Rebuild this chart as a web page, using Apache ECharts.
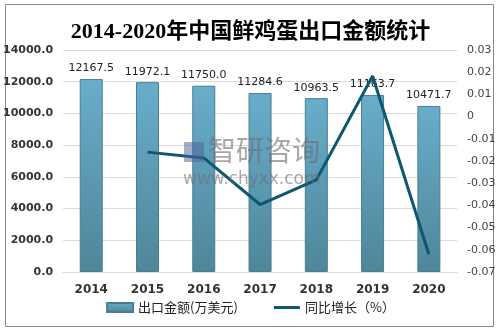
<!DOCTYPE html>
<html><head><meta charset="utf-8">
<script src="https://cdn.jsdelivr.net/npm/echarts@6/dist/echarts.min.js"></script>
<style>html,body{margin:0;padding:0;background:#fff}#c{width:501px;height:331px}</style>
</head><body><div id="c"></div>
<script>
var years = ['2014','2015','2016','2017','2018','2019','2020'];
var exportValue = [12167.5, 11972.1, 11750.0, 11284.6, 10963.5, 11163.7, 10471.7];
var growth = [null, -0.016, -0.0186, -0.0396, -0.0285, 0.0183, -0.062];
var leftTicks = [0, 2000, 4000, 6000, 8000, 10000, 12000, 14000];
var rightTicks = [-0.07, -0.06, -0.05, -0.04, -0.03, -0.02, -0.01, 0, 0.01, 0.02, 0.03];

var chart = echarts.init(document.getElementById('c'));
chart.setOption({
  animation: false,
  backgroundColor: '#fff',
  title: {
    text: '2014-2020年中国鲜鸡蛋出口金额统计',
    left: 'center', top: 16,
    textStyle: {fontFamily: '"Liberation Serif","Noto Sans CJK SC",serif', fontSize: 22, fontWeight: 'bold', color: '#000'}
  },
  graphic: [
    {type: 'rect', shape: {x: 5.5, y: 4.5, width: 488, height: 322}, style: {fill: 'none', stroke: '#888', lineWidth: 1}, z: 0},
    {type: 'text', left: 208, top: 136, z: 100, style: {text: '智研咨询', fontSize: 28, fontFamily: '"Noto Sans CJK SC",sans-serif', fill: 'rgba(110,110,115,0.6)'}},
    {type: 'rect', shape: {x: 184, y: 142, width: 20, height: 20}, style: {fill: 'rgba(80,95,160,0.5)'}, z: 100},
    {type: 'text', left: 183, top: 171, z: 100, style: {text: 'www.chyxx.com', fontSize: 17, fontFamily: '"DejaVu Sans",sans-serif', fill: 'rgba(110,110,115,0.6)'}}
  ],
  legend: {
    bottom: 12, left: 'center', itemGap: 36, itemWidth: 26, itemHeight: 9,
    textStyle: {fontSize: 13, color: '#222', fontFamily: '"Noto Sans CJK SC",sans-serif'},
    data: [
      {name: '出口金额(万美元)', icon: 'rect'},
      {name: '同比增长（%）', icon: 'path://M0,0 L26,0 L26,3 L0,3 Z'}
    ]
  },
  grid: {left: 58, right: 44, top: 50, bottom: 59},
  xAxis: {
    type: 'category', data: years,
    axisTick: {show: false},
    axisLine: {lineStyle: {color: '#d9d9d9'}},
    axisLabel: {fontSize: 12, fontWeight: 'bold', color: '#333', margin: 12, fontFamily: '"DejaVu Sans",sans-serif'}
  },
  yAxis: [
    {
      type: 'value', min: 0, max: 14000, interval: 2000,
      axisLabel: {formatter: function(v){return v.toFixed(1);}, fontSize: 11, color: '#333', fontWeight: 'bold', margin: 10, fontFamily: '"DejaVu Sans",sans-serif'},
      splitLine: {lineStyle: {color: '#d9d9d9'}},
      axisLine: {show: false}, axisTick: {show: false}
    },
    {
      type: 'value', min: -0.07, max: 0.03, interval: 0.01,
      axisLabel: {formatter: function(v){var r = Math.round(v*100)/100; return r === 0 ? '0' : String(r);}, fontSize: 11, color: '#444', margin: 10, fontFamily: '"DejaVu Sans",sans-serif'},
      splitLine: {show: false}, axisLine: {show: false}, axisTick: {show: false}
    }
  ],
  series: [
    {
      name: '出口金额(万美元)', type: 'bar', data: exportValue, barWidth: 23, yAxisIndex: 0,
      itemStyle: {
        color: new echarts.graphic.LinearGradient(0, 0, 0, 1, [{offset: 0, color: '#69adcb'}, {offset: 1, color: '#4f8699'}]),
        borderColor: '#4a7d92', borderWidth: 1
      },
      label: {show: true, position: 'top', distance: 5, fontSize: 11, color: '#222', formatter: function(p){return p.value.toFixed(1);}, fontFamily: '"DejaVu Sans",sans-serif'}
    },
    {
      name: '同比增长（%）', type: 'line', data: growth, yAxisIndex: 1,
      symbol: 'none', lineStyle: {color: '#0d5870', width: 3}, itemStyle: {color: '#0d5870'}, z: 5
    }
  ]
});
</script></body></html>
